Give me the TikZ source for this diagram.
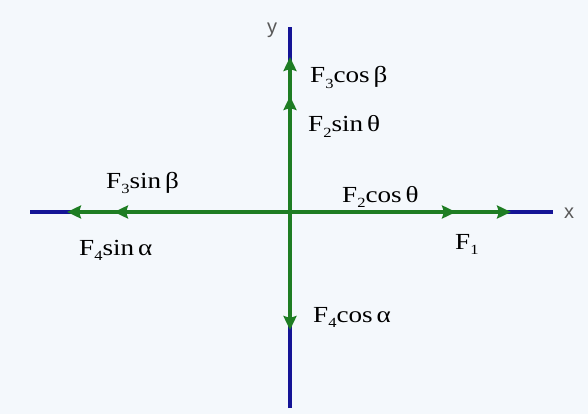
\documentclass[tikz,border=0pt]{standalone}
\usepackage{fontspec}
\setmainfont{Liberation Serif}[FakeStretch=1.18]
\newfontfamily\axisfont{Liberation Sans}
\usetikzlibrary{arrows.meta}
\definecolor{axisblue}{RGB}{20,20,150}
\definecolor{forcegreen}{RGB}{30,125,35}
\definecolor{paper}{RGB}{244,248,252}
\newcommand{\fsub}[1]{\raisebox{-0.5ex}{\fontsize{14}{14}\selectfont #1}}
\begin{document}
\begin{tikzpicture}[x=1pt,y=-1pt,
    axisline/.style={axisblue, line width=3.2pt},
    force/.style={forcegreen, line width=3.3pt, -{Stealth[length=14pt,width=13pt,inset=2pt]}},
    flabel/.style={font=\fontsize{23}{26}\selectfont, inner sep=0pt, anchor=base west},
    alabel/.style={font=\axisfont\fontsize{20}{22}\selectfont, gray!70!black}]
        % Background
        \fill[paper] (0,0) rectangle (588,414);
        \useasboundingbox (0,0) rectangle (588,414);

        % Axes
        \coordinate (O) at (290,212);
        \coordinate (xl) at (30,212);
        \coordinate (xr) at (553,212);
        \coordinate (yt) at (290,27);
        \coordinate (yb) at (290,408);
        \draw[axisline] (xl) -- (xr);
        \draw[axisline] (yb) -- (yt);
        \node[alabel] (xlab) at (569,213) {x};
        \node[alabel] (ylab) at (272,30) {y};

        % Components
        \coordinate (r1) at (456,212);
        \coordinate (r2) at (511,212);
        \coordinate (u1) at (290,96);
        \coordinate (u2) at (290,57);
        \coordinate (l1) at (114,212);
        \coordinate (l2) at (67,212);
        \coordinate (d1) at (290,330);
        \foreach \t in {r2,r1,u2,u1,l2,l1,d1} {
            \draw[force] (O) -- (\t);
        }

        % Labels
        \node[flabel] (f3c) at (310,83) {F\fsub{3}cos\,β};
        \node[flabel] (f2s) at (308,132) {F\fsub{2}sin\,θ};
        \node[flabel] (f3s) at (106,188) {F\fsub{3}sin\,β};
        \node[flabel] (f4s) at (79,255) {F\fsub{4}sin\,α};
        \node[flabel] (f2c) at (342,202) {F\fsub{2}cos\,θ};
        \node[flabel] (f1) at (455,249) {F\fsub{1}};
        \node[flabel] (f4c) at (313,322) {F\fsub{4}cos\,α};
\end{tikzpicture}
\end{document}
